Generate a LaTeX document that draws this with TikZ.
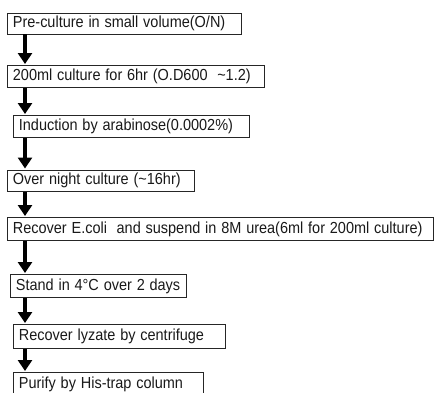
\documentclass[tikz,border=0pt]{standalone}
\usepackage{fontspec}
\usepackage{graphicx}
\setmainfont{Liberation Sans}
\usetikzlibrary{arrows.meta}
\newcommand{\steptext}[1]{\scalebox{0.905}[1]{#1}}
\begin{document}
\begin{tikzpicture}[x=1pt,y=-1pt,
  stepbox/.style={draw=black!85, line width=0.8pt, anchor=north west, inner xsep=5.5pt, inner ysep=0pt,
    align=left, font=\fontsize{16}{19}\selectfont, text=black!90},
  arr/.style={line width=3.5pt, black, -{Triangle[width=14pt,length=11pt]}, shorten >=1pt}]
\useasboundingbox (0,0) rectangle (436,392);
\coordinate (ax) at (25,0);
\node[stepbox, text width=223pt, minimum height=21pt] (b1) at (7,12.5) {\steptext{Pre-culture in small volume(O/N)}};
\node[stepbox, text width=246pt, minimum height=22pt] (b2) at (7,65) {\steptext{200ml culture for 6hr (O.D600~ \textasciitilde1.2)}};
\node[stepbox, text width=225pt, minimum height=22pt] (b3) at (13,115) {\steptext{Induction by arabinose(0.0002\%)}};
\node[stepbox, text width=176pt, minimum height=21.5pt] (b4) at (7,169.5) {\steptext{Over night culture (\textasciitilde16hr)}};
\node[stepbox, text width=415pt, minimum height=23pt] (b5) at (7,217) {\steptext{Recover E.coli~ and suspend in 8M urea(6ml for 200ml culture)}};
\node[stepbox, text width=165pt, minimum height=23pt] (b6) at (10,274) {\steptext{Stand in 4\textdegree C over 2 days}};
\node[stepbox, text width=201pt, minimum height=24pt] (b7) at (13,324) {\steptext{Recover lyzate by centrifuge}};
\node[stepbox, text width=179pt, minimum height=24pt] (b8) at (13,372) {\steptext{Purify by His-trap column}};
\draw[arr] (b1.south -| ax) -- (b2.north -| ax);
\draw[arr] (b2.south -| ax) -- (b3.north -| ax);
\draw[arr] (b3.south -| ax) -- (b4.north -| ax);
\draw[arr] (b4.south -| ax) -- (b5.north -| ax);
\draw[arr] (b5.south -| ax) -- (b6.north -| ax);
\draw[arr] (b6.south -| ax) -- (b7.north -| ax);
\draw[arr] (b7.south -| ax) -- (b8.north -| ax);
\end{tikzpicture}
\end{document}
